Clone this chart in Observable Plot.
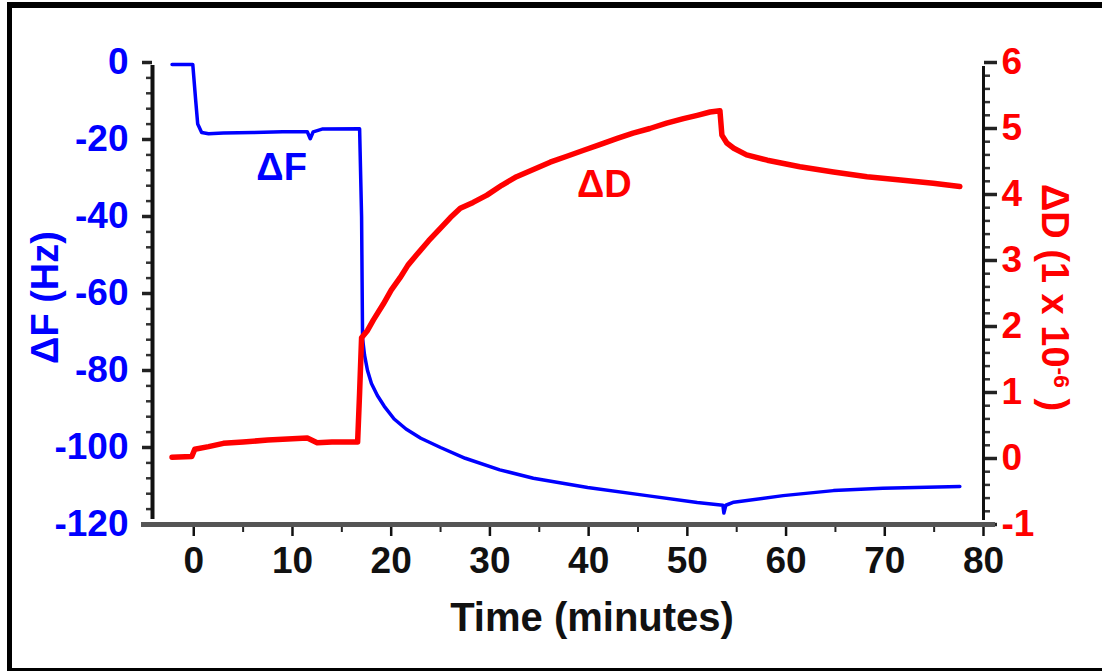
<!DOCTYPE html>
<html>
<head>
<meta charset="utf-8">
<script src="https://cdn.jsdelivr.net/npm/d3@7"></script>
<script src="https://cdn.jsdelivr.net/npm/@observablehq/plot@0.6"></script>
<style>
  html, body { margin: 0; padding: 0; background: #fff; }
  #wrap { position: relative; width: 1102px; height: 672px; overflow: hidden; background: #fff; }
  #border { position: absolute; left: 7px; top: 2px; width: 1095px; height: 669px; box-sizing: border-box;
            border-top: 6px solid #000; border-left: 5px solid #000; border-bottom: 3px solid #000; pointer-events: none; }
  #chart { position: absolute; left: 0; top: 0; }
</style>
</head>
<body>
<div id="wrap"><div id="chart"></div><div id="border"></div></div>
<script>
// ---- Data ----
// Frequency shift ΔF (Hz) vs time (minutes)
const timeF = [-2.2, -0.1, 0.2, 0.4, 0.8, 1.5, 3, 6, 9, 11.5, 11.8, 12.1, 13, 16.8, 17.0, 17.1, 17.3, 17.6, 18, 18.6, 19.3, 20.3, 21.5, 23, 25, 27.5, 31, 34.4, 39.9, 45.9, 51, 53.6, 53.7, 53.9, 54.7, 59.7, 64.8, 69.8, 77.6];
const deltaF = [-0.5, -0.5, -10, -16, -18.2, -18.5, -18.3, -18.2, -18.0, -18.0, -19.8, -18.0, -17.3, -17.2, -40, -71.7, -76, -80, -83.4, -86.5, -89.3, -92.6, -95.2, -97.6, -100, -102.8, -105.8, -108.0, -110.4, -112.5, -114.3, -115, -117, -115, -114.2, -112.5, -111.2, -110.6, -110.1];
// Dissipation shift ΔD (1e-6) vs time (minutes)
const timeD = [-2.2, -0.2, 0.1, 1.5, 3, 5, 7.5, 10, 11.5, 12.5, 14, 16.6, 16.8, 17.0, 17.6, 18.2, 19.2, 20.0, 20.9, 21.7, 22.6, 23.8, 25.0, 26.0, 27.0, 28.3, 29.7, 31.2, 32.7, 34.4, 36.1, 37.8, 39.5, 41.2, 42.9, 44.5, 46.2, 47.9, 49.6, 51.0, 52.3, 53.3, 53.5, 54.0, 54.7, 56.0, 58.1, 61.4, 64.8, 68.2, 71.6, 74.9, 77.6];
const deltaD = [0.02, 0.03, 0.14, 0.18, 0.23, 0.25, 0.28, 0.30, 0.31, 0.24, 0.25, 0.25, 1.0, 1.83, 1.94, 2.1, 2.34, 2.55, 2.74, 2.93, 3.09, 3.30, 3.49, 3.65, 3.79, 3.88, 3.99, 4.14, 4.27, 4.38, 4.49, 4.58, 4.67, 4.76, 4.85, 4.93, 5.00, 5.08, 5.15, 5.20, 5.25, 5.27, 4.90, 4.78, 4.70, 4.60, 4.52, 4.42, 4.34, 4.27, 4.22, 4.17, 4.12];

// Axes
const xDomain = [-4.18, 80];
const fDomain = [-120, 0];
const dDomain = [-1, 6];
const xTicks = [0, 10, 20, 30, 40, 50, 60, 70, 80];
const xMinorTicks = [5, 15, 25, 35, 45, 55, 65, 75];
const fTicks = [0, -20, -40, -60, -80, -100, -120];
const dTicks = [-1, 0, 1, 2, 3, 4, 5, 6];
const fMinorTicks = d3.range(-116, 0, 4).filter(v => v % 20 !== 0);
const dMinorTicks = d3.range(-5, 35, 1).map(v => v / 5).filter(v => !Number.isInteger(v) && v > -1 && v < 6);

// Labels
const xTitle = "Time (minutes)";
const fTitle = "ΔF (Hz)";
const dTitleMain = "ΔD (1 x 10";
const dTitleSup = "-6";
const dTitleEnd = " )";
const fSeriesLabel = {t: 8.9, f: -27.3, text: "ΔF"};
const dSeriesLabel = {t: 41.6, f: -31.7, text: "ΔD"};

// map ΔD onto the ΔF coordinate space (shared frame)
const dToF = d3.scaleLinear(dDomain, fDomain);

const blue = "#0000ff";
const red = "#ff0000";

const fData = timeF.map((t, i) => ({t, v: deltaF[i]}));
const dData = timeD.map((t, i) => ({t, v: dToF(deltaD[i])}));

const chart = Plot.plot({
  width: 1102,
  height: 672,
  marginLeft: 152,
  marginRight: 119,
  marginTop: 62,
  marginBottom: 148,
  style: {fontFamily: "'Liberation Sans', Arial, sans-serif", fontWeight: "bold", fontSize: "37px", background: "transparent"},
  x: {domain: xDomain},
  y: {domain: fDomain},
  marks: [
    // minor ticks
    Plot.axisX(xMinorTicks, {tickSize: 8, stroke: "#222", strokeWidth: 2, fill: "none", label: null}),
    Plot.axisY(fMinorTicks, {anchor: "left", tickSize: 6, stroke: "#333", strokeWidth: 2.5, fill: "none", label: null}),
    Plot.axisY(dMinorTicks.map(dToF), {anchor: "right", tickSize: 6, stroke: "#333", strokeWidth: 2.5, fill: "none", label: null}),
    // major ticks + labels
    Plot.axisX(xTicks, {tickSize: 12, tickPadding: 10, stroke: "#111", strokeWidth: 2.5, fill: "#111", tickFormat: d => `${d}`, label: null}),
    Plot.axisY(fTicks, {anchor: "left", tickSize: 10, tickPadding: 14, stroke: "#222", strokeWidth: 3.5, fill: blue, tickFormat: d => `${d}`, label: null}),
    Plot.axisY(dTicks.map(dToF), {anchor: "right", tickSize: 13, tickPadding: 5, stroke: "#222", strokeWidth: 3.5, fill: red, tickFormat: f => `${Math.round(dToF.invert(f))}`, label: null}),
    // axis lines
    Plot.ruleY([fDomain[0]], {x1: xDomain[0], x2: xDomain[1], stroke: "#555", strokeWidth: 5, insetLeft: -11, insetRight: -12}),
    Plot.ruleX([xDomain[0]], {y1: fDomain[0], y2: fDomain[1], stroke: "#111", strokeWidth: 4, insetTop: -5, insetBottom: -3}),
    Plot.ruleX([xDomain[1]], {y1: fDomain[0], y2: fDomain[1], stroke: "#111", strokeWidth: 3, insetTop: -4, insetBottom: -4}),
    // series
    Plot.line(fData, {x: "t", y: "v", stroke: blue, strokeWidth: 3.5}),
    Plot.line(dData, {x: "t", y: "v", stroke: red, strokeWidth: 5.5}),
    // series labels
    Plot.text([fSeriesLabel], {x: "t", y: "f", text: "text", fill: blue, fontSize: 38}),
    Plot.text([dSeriesLabel], {x: "t", y: "f", text: "text", fill: red, fontSize: 38}),
    // axis titles
    Plot.text([xTitle], {frameAnchor: "bottom", textAnchor: "middle", dx: 24, dy: 94, lineAnchor: "middle", fill: "#111", fontSize: 40}),
    Plot.text([fTitle], {frameAnchor: "left", textAnchor: "middle", dx: -107, dy: 4, rotate: -90, lineAnchor: "middle", fill: blue, fontSize: 38}),
    Plot.text([dTitleMain + dTitleSup + dTitleEnd], {frameAnchor: "right", textAnchor: "middle", dx: 71, dy: 4, rotate: 90, lineAnchor: "middle", fill: red, fontSize: 38})
  ]
});

document.getElementById("chart").appendChild(chart);

// superscript in the ΔD axis title
d3.select(chart).selectAll("text")
  .filter(function() { return this.textContent === dTitleMain + dTitleSup + dTitleEnd; })
  .each(function() {
    const t = d3.select(this);
    t.text(null);
    t.append("tspan").text(dTitleMain);
    t.append("tspan").attr("dy", "-0.5em").attr("font-size", "0.6em").text(dTitleSup);
    t.append("tspan").attr("dy", "0.3em").text(dTitleEnd);
  });
</script>
</body>
</html>
